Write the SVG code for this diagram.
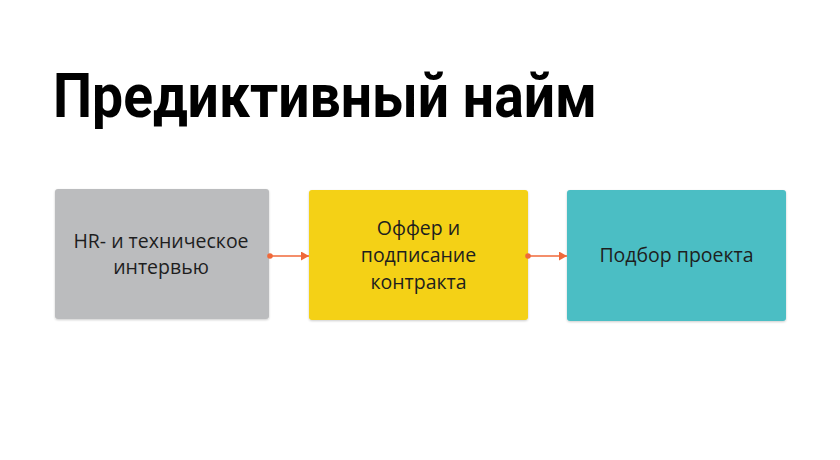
<svg xmlns="http://www.w3.org/2000/svg" width="840" height="460" viewBox="0 0 840 460">
  <defs>
    <marker id="ah" viewBox="0 0 10 10" refX="10" refY="5" markerWidth="8" markerHeight="9" markerUnits="userSpaceOnUse" orient="auto" preserveAspectRatio="none">
      <path d="M0,0 L10,5 L0,10 z" fill="#F0693A"/>
    </marker>
    <filter id="sh" x="-5%" y="-5%" width="110%" height="115%">
      <feDropShadow dx="0" dy="1" stdDeviation="1" flood-color="#000" flood-opacity="0.2"/>
    </filter>
    <style>
      .box { filter: url(#sh); }
      .lbl { font-family: "Open Sans", "Noto Sans", sans-serif; font-size: 19.5px; fill: #1e1e1e; text-anchor: middle; }
      .title { font-family: Roboto, "Noto Sans", sans-serif; font-weight: bold; font-size: 62px; fill: #000; }
      .conn { stroke: #F0693A; stroke-width: 1.6; fill: none; }
    </style>
  </defs>
  <rect width="840" height="460" fill="#fff"/>
  <text class="title" x="53" y="117" textLength="544" lengthAdjust="spacingAndGlyphs">Предиктивный найм</text>

  <g id="node-interview">
    <rect class="box" x="55" y="189" width="214" height="130" rx="3" fill="#BBBCBE"/>
    <text class="lbl" x="161" y="248">HR- и техническое</text>
    <text class="lbl" x="161" y="274">интервью</text>
  </g>
  <g id="node-offer">
    <rect class="box" x="309" y="190" width="219" height="130" rx="3" fill="#F4D113"/>
    <text class="lbl" x="418.5" y="235">Оффер и</text>
    <text class="lbl" x="418.5" y="262">подписание</text>
    <text class="lbl" x="418.5" y="289">контракта</text>
  </g>
  <g id="node-project">
    <rect class="box" x="567" y="190" width="219" height="131" rx="3" fill="#4BBEC4"/>
    <text class="lbl" x="676.5" y="262">Подбор проекта</text>
  </g>

  <g id="connectors">
    <circle cx="270" cy="256" r="2.8" fill="#F0693A"/>
    <line class="conn" x1="270" y1="256" x2="309" y2="256" marker-end="url(#ah)"/>
    <circle cx="528" cy="256" r="2.8" fill="#F0693A"/>
    <line class="conn" x1="528" y1="256" x2="567" y2="256" marker-end="url(#ah)"/>
  </g>
</svg>
